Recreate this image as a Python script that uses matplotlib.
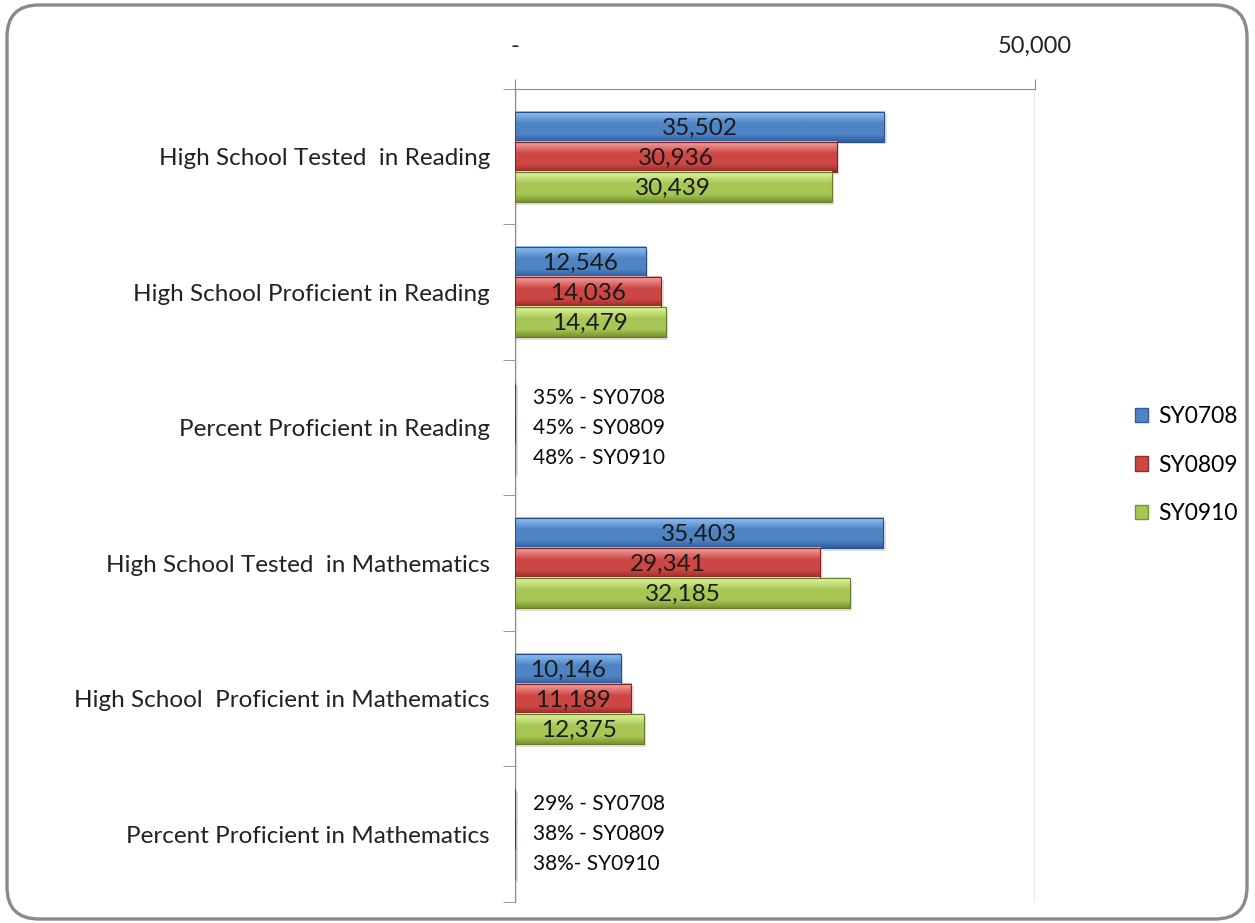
import numpy as np
import matplotlib.pyplot as plt
from matplotlib.patches import FancyBboxPatch, Patch, Rectangle
from matplotlib.colors import to_rgb

plt.rcParams['font.family'] = ['Lato', 'DejaVu Sans']

# data
categories = [
    "High School Tested  in Reading",
    "High School Proficient in Reading",
    "Percent Proficient in Reading",
    "High School Tested  in Mathematics",
    "High School  Proficient in Mathematics",
    "Percent Proficient in Mathematics",
]
series = ["SY0708", "SY0809", "SY0910"]
sy0708 = [35502, 12546, 0.35, 35403, 10146, 0.29]
sy0809 = [30936, 14036, 0.45, 29341, 11189, 0.38]
sy0910 = [30439, 14479, 0.48, 32185, 12375, 0.38]
# rows where the value is a percentage -> shown as text instead of a number
pct_rows = {2: ["35% - SY0708", "45% - SY0809", "48% - SY0910"],
            5: ["29% - SY0708", "38% - SY0809", "38%- SY0910"]}

# colours: light (top), base, dark (bottom)
palette = [("#93c4f6", "#4f84c4", "#2f5d9e"),
           ("#f6a8a5", "#cc4744", "#962a28"),
           ("#e6f9a4", "#a8c656", "#78942f")]

fig = plt.figure(figsize=(12.55, 9.23), dpi=100)
ax = fig.add_axes([0.4104, 0.0228, 0.4143, 0.8808])

# rounded outer frame
frame = FancyBboxPatch((0.07, 0.04), 12.40, 9.14,
                       boxstyle="round,pad=0,rounding_size=0.32",
                       transform=fig.dpi_scale_trans, fill=False,
                       edgecolor="#8a8a8a", linewidth=2.4, zorder=0)
fig.patches.append(frame)


def grad_bar(ax, y, w, h, cols):
    light, base, dark = [np.array(to_rgb(c)) for c in cols]
    n = 60
    t = np.linspace(0, 1, n)
    rows = []
    for v in t:
        if v < 0.4:
            c = light + (base - light) * (v / 0.4)
        elif v < 0.75:
            c = base
        else:
            c = base + (dark - base) * ((v - 0.75) / 0.25)
        rows.append(c)
    img = np.array(rows).reshape(n, 1, 3)
    # shadow
    ax.add_patch(Rectangle((0, y - h / 2 + 0.02), w + 250, h,
                           facecolor="#000000", alpha=0.12, linewidth=0,
                           zorder=1))
    ax.imshow(img, extent=(0, w, y + h / 2, y - h / 2), aspect="auto",
              interpolation="bilinear", zorder=2)
    ax.add_patch(Rectangle((0, y - h / 2), w, h, fill=False,
                           edgecolor=dark * 0.85, linewidth=0.8, zorder=3))


ypos = np.arange(len(categories))
h = 0.222
offsets = [-0.222, 0.0, 0.222]
for k, vals in enumerate([sy0708, sy0809, sy0910]):
    for i, v in enumerate(vals):
        y = ypos[i] + offsets[k]
        grad_bar(ax, y, v, h, palette[k])
        if i in pct_rows:
            ax.text(1750, y, pct_rows[i][k], ha="left", va="center",
                    fontsize=15, color="#0a0a0a", zorder=4)
        else:
            ax.text(v / 2, y + 0.01, f"{v:,.0f}", ha="center", va="center",
                    fontsize=17.5, color="#1a1a1a", zorder=4)

ax.set_xlim(0, 50000)
ax.set_ylim(5.5, -0.5)

ax.xaxis.tick_top()
ax.set_xticks([0, 50000])
ax.set_xticklabels(["-", "50,000"], fontsize=17, color="#222222")
ax.tick_params(axis="x", length=7, color="#8a8a8a", pad=16)
ax.xaxis.grid(True, color="#8a8a8a", linewidth=1)
ax.set_axisbelow(True)

ax.set_yticks(ypos)
ax.set_yticklabels(categories, fontsize=17.5, color="#222222")
ax.set_yticks(np.arange(-0.5, 6, 1), minor=True)
ax.tick_params(axis="y", which="major", length=0, pad=18)
ax.tick_params(axis="y", which="minor", length=9, color="#8a8a8a")

for s in ["right", "bottom"]:
    ax.spines[s].set_visible(False)
ax.spines["top"].set_color("#8a8a8a")
ax.spines["left"].set_color("#8a8a8a")

handles = [Patch(facecolor=palette[k][1], edgecolor=palette[k][2])
           for k in range(3)]
fig.legend(handles, series, loc="center left",
           bbox_to_anchor=(1114 / 1255, 1 - 465 / 923), frameon=False,
           fontsize=16.5, handlelength=0.6, handleheight=0.6,
           handletextpad=0.45, labelspacing=1.2)

fig.savefig("out.png", dpi=100)
